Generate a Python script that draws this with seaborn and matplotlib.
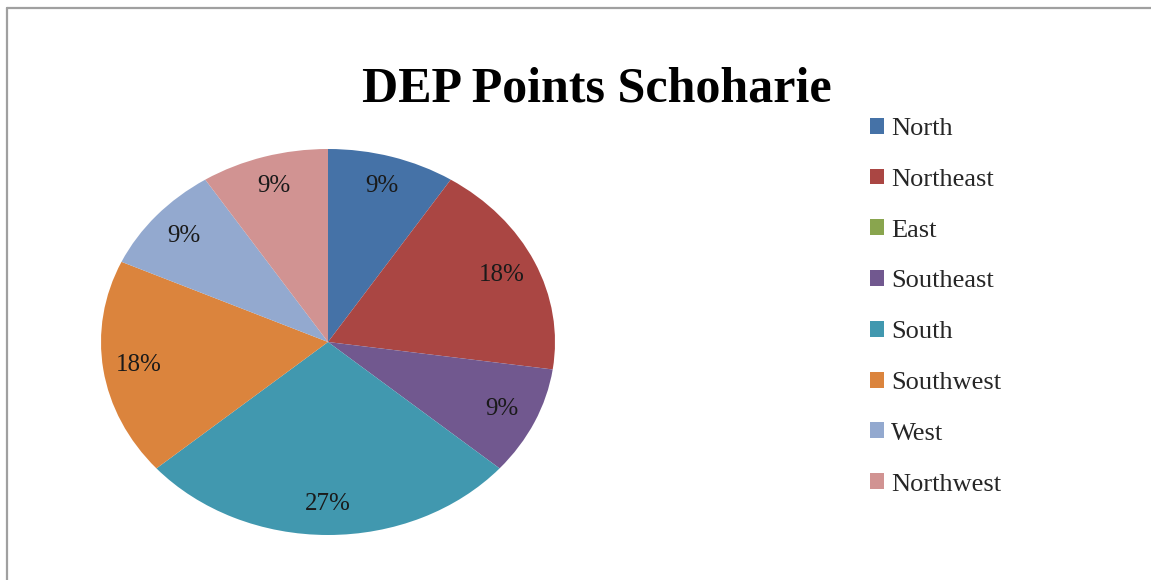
import matplotlib
matplotlib.use("Agg")
import matplotlib.pyplot as plt
from matplotlib.lines import Line2D
import seaborn as sns

# data
directions = ["North", "Northeast", "East", "Southeast", "South", "Southwest", "West", "Northwest"]
points = [1, 2, 0, 1, 3, 2, 1, 1]
colors = ["#4572A7", "#AA4643", "#89A54E", "#71588F", "#4198AF", "#DB843D", "#93A9CF", "#D19392"]

sns.set_theme(style="white")
plt.rcParams['font.family'] = ['Liberation Serif', 'DejaVu Serif']

W, H = 1151, 580
fig = plt.figure(figsize=(W / 100, H / 100), dpi=100)

# frame around the chart area (top and left edges visible)
fig.add_artist(Line2D([7 / W, 7 / W], [0, 1 - 8 / H], color="#A0A0A0", lw=1.6))
fig.add_artist(Line2D([7 / W, 1], [1 - 8 / H, 1 - 8 / H], color="#A0A0A0", lw=1.6))

# pie is slightly stretched horizontally in the original
ax = fig.add_axes([101 / W, 45 / H, 454 / W, 386 / H])
pal = sns.color_palette(colors)

def fmt(p):
    return f"{p:.0f}%" if p > 0 else ""

wedges, texts, autotexts = ax.pie(points, colors=pal, startangle=90, counterclock=False,
                                  autopct=fmt, pctdistance=0.84, radius=1.0,
                                  wedgeprops=dict(linewidth=0, edgecolor="none"),
                                  textprops=dict(fontsize=18, color="#1a1a1a"))
ax.set_aspect('auto')
ax.set_xlim(-1, 1)
ax.set_ylim(-1, 1)

fig.text(597 / W, 1 - 90 / H, "DEP Points Schoharie", ha="center", va="center",
         fontsize=36, fontweight="bold", color="black")

leg = fig.legend(wedges, directions, loc="upper left", bbox_to_anchor=(846 / W, 1 - 94 / H),
                 frameon=False, fontsize=19, handlelength=0.55, handleheight=0.55,
                 handletextpad=0.25, labelspacing=1.08)

fig.savefig("out.png", dpi=100, facecolor="white")
